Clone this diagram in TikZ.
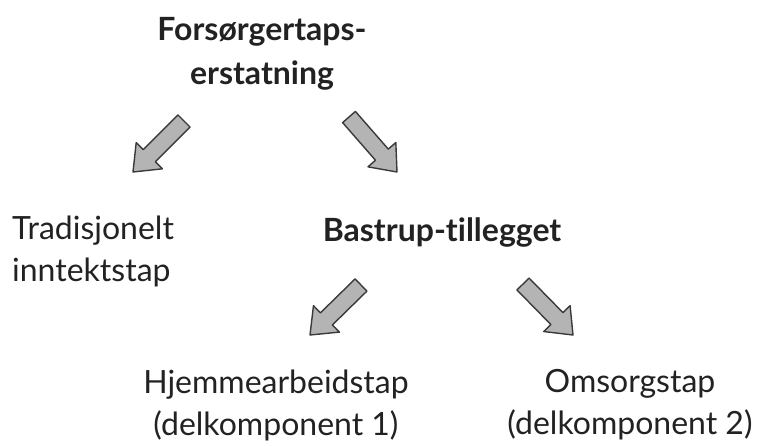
\documentclass[tikz,border=0pt]{standalone}
\usepackage{fontspec}
\setmainfont{Lato}[Ligatures=NoCommon]
\usetikzlibrary{calc}
\definecolor{txt}{HTML}{222222}
\definecolor{arrfill}{HTML}{B4B4B4}
\definecolor{arrline}{HTML}{3A3A3A}
\tikzset{
  lbl/.style={text=txt, inner sep=0pt, font=\fontsize{32}{42}\selectfont},
  lblb/.style={lbl, font=\fontsize{32}{44}\selectfont\bfseries},
  barrow/.style={fill=arrfill, draw=arrline, line width=1.4pt, line join=round}
}
\newcommand\blockarr[2]{%
  \coordinate (H) at ($(#2)!23pt!(#1)$);
  \draw[barrow] ($(#1)!8.5pt!90:(#2)$) -- ($(H)!8.5pt!90:(#2)$) -- ($(H)!18.5pt!90:(#2)$)
     -- (#2) -- ($(H)!18.5pt!-90:(#2)$) -- ($(H)!8.5pt!-90:(#2)$) -- ($(#1)!8.5pt!-90:(#2)$) -- cycle;}
\begin{document}
\begin{tikzpicture}[x=1pt,y=-1pt]
\useasboundingbox (0,0) rectangle (762,445);
\node[lblb, align=center] (top) at (262,54) {Forsørgertaps-\\erstatning};
\node[lbl, align=left, anchor=west] (trad) at (12,251) {Tradisjonelt\\inntektstap};
\node[lblb] (bast) at (442,232) {Bastrup-tillegget};
\node[lbl, align=center] (hjem) at (276,405) {Hjemmearbeidstap\\(delkomponent 1)};
\node[lbl, align=center] (oms) at (630,405) {Omsorgstap\\(delkomponent 2)};
\coordinate (a1s) at (184,121); \coordinate (a1e) at (133,172);
\coordinate (a2s) at (349,117); \coordinate (a2e) at (397,172);
\coordinate (a3s) at (361,285); \coordinate (a3e) at (310,335);
\coordinate (a4s) at (523,284); \coordinate (a4e) at (573,335);
\blockarr{a1s}{a1e}
\blockarr{a2s}{a2e}
\blockarr{a3s}{a3e}
\blockarr{a4s}{a4e}
\end{tikzpicture}
\end{document}
